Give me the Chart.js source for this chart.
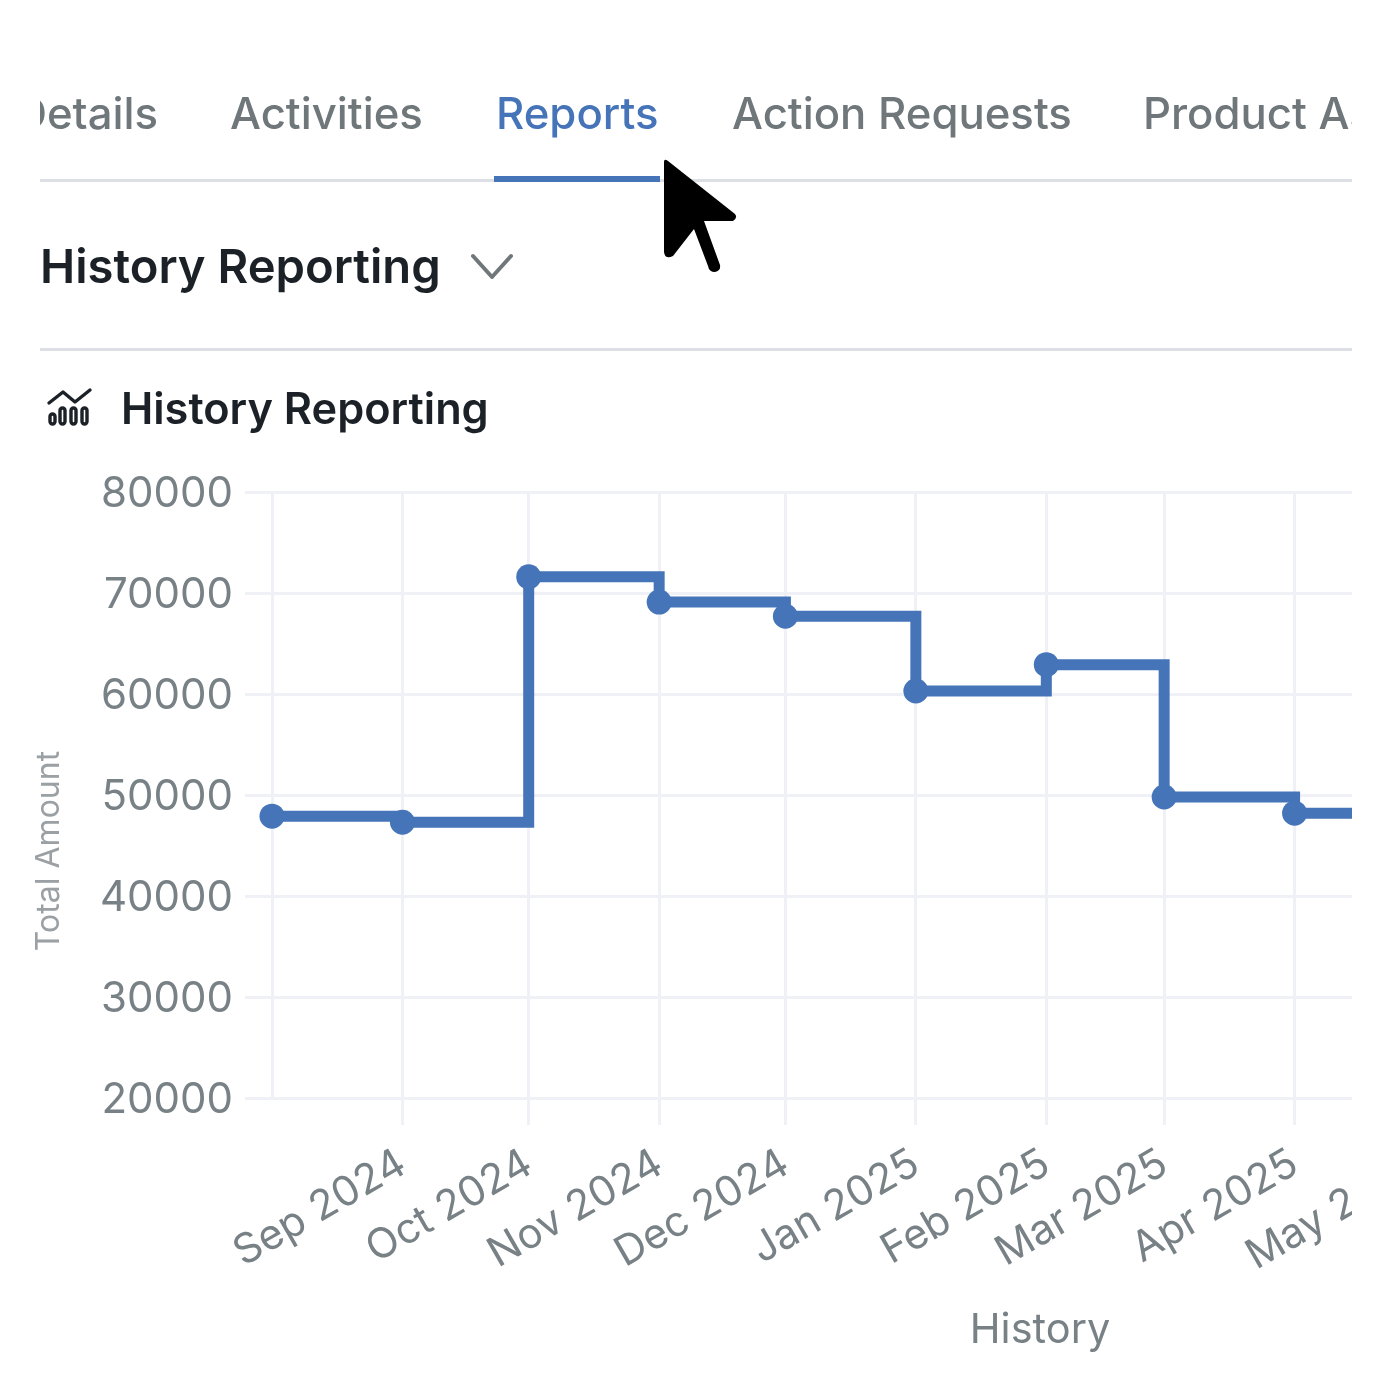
<!DOCTYPE html>
<html><head><meta charset="utf-8">
<script src="https://cdn.jsdelivr.net/npm/chart.js@4"></script>
<style>
html,body{margin:0;padding:0;background:#fff;width:1400px;height:1400px;overflow:hidden;font-family:Inter,"Noto Sans",sans-serif}
#plot{position:absolute;left:0;top:0;width:1352px;height:1400px;overflow:hidden}
#plot canvas{position:absolute;left:0;top:0}
#clip{position:absolute;left:40px;top:0;width:1312px;height:460px;overflow:hidden}
.tab{position:absolute;top:88.5px;font-size:43.7px;line-height:50px;font-weight:500;color:#6f777b;white-space:nowrap}
.rule{position:absolute;left:0;width:1312px;height:3px;background:#dcdfe3}
.h1{position:absolute;left:0;top:238px;font-size:47.2px;line-height:56px;font-weight:600;color:#1b2126;white-space:nowrap}
.h2{position:absolute;left:81px;top:382px;font-size:43.3px;line-height:52px;font-weight:600;color:#1b2126;white-space:nowrap}
svg{position:absolute;overflow:visible}
</style></head><body>
<div id="plot"><canvas id="c" width="1900" height="1400"></canvas></div>
<div id="clip">
  <div class="tab" style="right:1194px">Details</div>
  <div class="tab" style="left:190px">Activities</div>
  <div class="tab" style="left:456px;color:#4574b9">Reports</div>
  <div class="tab" style="left:692px">Action Requests</div>
  <div class="tab" style="left:1103px">Product Assets</div>
  <div class="rule" style="top:179px"></div>
  <div class="rule" style="top:176px;left:454px;width:166px;height:6px;background:#4574b9"></div>
  <div class="h1">History Reporting</div>
  <div class="rule" style="top:348px"></div>
  <div class="h2">History Reporting</div>
</div>
<svg style="left:0;top:0" width="1400" height="1400">
  <path d="M473 256 L492 277 L511 256" fill="none" stroke="#6f777b" stroke-width="4" stroke-linecap="round" stroke-linejoin="round"/>
  <g fill="none" stroke="#1b2126" stroke-width="3.4" stroke-linecap="round" stroke-linejoin="round">
    <path d="M49 403 L63 392 L75 402 L90 390"/>
    <rect x="50" y="414" width="5" height="10" rx="2.5"/>
    <rect x="60" y="408" width="5" height="16" rx="2.5"/>
    <rect x="71" y="408" width="5" height="16" rx="2.5"/>
    <rect x="82" y="408" width="5" height="16" rx="2.5"/>
  </g>
  <path d="M664 162 Q664 158 668 161 L735 214 Q738 218 733 221 L704 221 L720 265 Q721 271 715 272 Q709 272 708 266 L694 229 L673 256 Q665 260 664 252 Z" fill="#000"/>
</svg>
<script>
const pointDates = ['2024-08-01','2024-09-01','2024-10-01','2024-11-01','2024-12-01','2025-01-01','2025-02-01','2025-03-01','2025-04-01','2025-05-01'];
const totals = [47900,47300,71600,69100,67700,60300,62900,49800,48200,48200];
const tickDates = ['2024-09-01','2024-10-01','2024-11-01','2024-12-01','2025-01-01','2025-02-01','2025-03-01','2025-04-01','2025-05-01'];
const tickLabels = ['Sep 2024','Oct 2024','Nov 2024','Dec 2024','Jan 2025','Feb 2025','Mar 2025','Apr 2025','May 2025'];
const axisStart = '2024-08-01', axisEnd = '2025-08-01';
const yTitle = 'Total Amount', xTitle = 'History';
const BLUE = '#4574b9', GRID = '#eff1f6', TICK = '#788185';
const day = s => Date.parse(s + 'T00:00:00Z') / 86400000;
const FONT = 'Inter, "Noto Sans", sans-serif';

const yTitlePlugin = {
  id: 'yTitleOffset',
  afterDraw(chart) {
    const ctx = chart.ctx;
    ctx.save();
    ctx.translate(49, 851);
    ctx.rotate(-Math.PI / 2);
    ctx.font = '400 32px ' + FONT;
    ctx.fillStyle = '#9aa0a3';
    ctx.textAlign = 'center';
    ctx.textBaseline = 'middle';
    ctx.fillText(yTitle, 0, 0);
    ctx.restore();
  }
};

new Chart(document.getElementById('c'), {
  type: 'line',
  plugins: [yTitlePlugin],
  data: {
    datasets: [{
      label: 'Total Amount',
      data: pointDates.map((d, i) => ({ x: day(d), y: totals[i] })),
      stepped: true,
      clip: false,
      borderColor: BLUE,
      backgroundColor: BLUE,
      borderWidth: 11,
      pointRadius: 12.5,
      pointBackgroundColor: BLUE,
      pointBorderWidth: 0,
      fill: false
    }]
  },
  options: {
    responsive: false,
    animation: false,
    devicePixelRatio: 1,
    layout: { padding: { left: 0, right: 92, top: 492, bottom: 40 } },
    plugins: { legend: { display: false }, title: { display: false }, tooltip: { enabled: false } },
    scales: {
      x: {
        type: 'linear',
        min: day(axisStart),
        max: day(axisEnd),
        afterBuildTicks(s) { s.ticks = tickDates.map(d => ({ value: day(d) })); },
        afterFit(s) { s.height = 262; s.paddingLeft = 0; s.paddingRight = 0; },
        grid: { color: GRID, lineWidth: 3, tickLength: 27, drawOnChartArea: true },
        border: { display: false },
        ticks: {
          autoSkip: false, minRotation: 30, maxRotation: 30, padding: 14,
          color: TICK, font: { family: FONT, size: 41.5, weight: '400' },
          callback(v) { const i = tickDates.findIndex(d => day(d) === v); return i < 0 ? '' : tickLabels[i]; }
        },
        title: { display: true, text: xTitle, color: '#788185', font: { family: FONT, size: 41.5, weight: '400' }, padding: { top: 0, bottom: 5 } }
      },
      y: {
        min: 20000, max: 80000,
        afterFit(s) { s.width = 272; s.paddingTop = 0; s.paddingBottom = 0; },
        grid: { color: GRID, lineWidth: 3, tickLength: 27 },
        border: { display: true, color: GRID, width: 3 },
        ticks: { stepSize: 10000, padding: 12, labelOffset: 2, color: TICK, font: { family: FONT, size: 42, weight: '400' }, callback: v => String(v) }
      }
    }
  }
});
</script>
</body></html>
